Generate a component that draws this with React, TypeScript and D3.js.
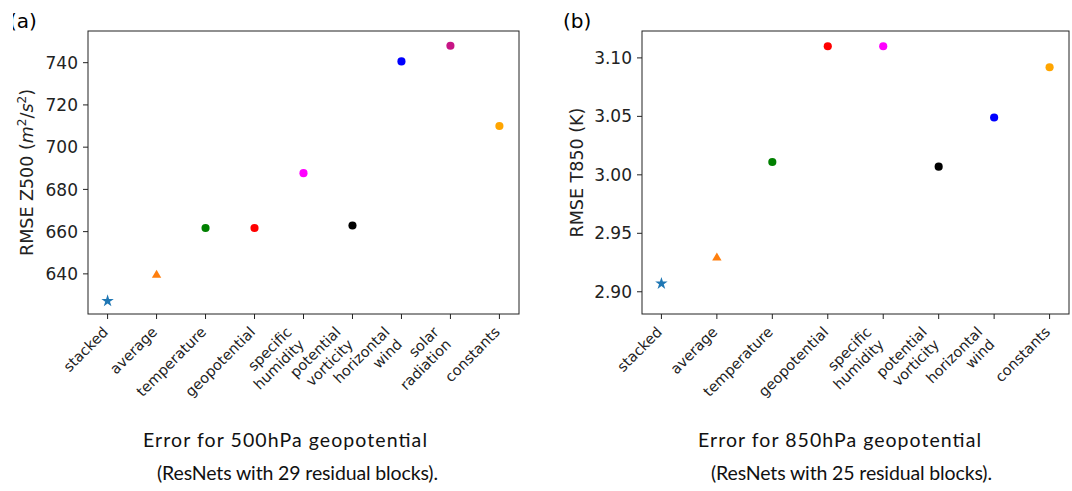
import React from 'react';
import * as d3 from 'd3';

// panel (a): 500hPa geopotential, 29 residual blocks
const catsA = [
  ['stacked'],
  ['average'],
  ['temperature'],
  ['geopotential'],
  ['specific', 'humidity'],
  ['potential', 'vorticity'],
  ['horizontal', 'wind'],
  ['solar', 'radiation'],
  ['constants'],
];
const valuesA = [627.2, 639.4, 661.7, 661.7, 687.7, 662.9, 740.6, 748.0, 710.0];
const ticksA = [640, 660, 680, 700, 720, 740];

// panel (b): 850hPa temperature, 25 residual blocks
const catsB = [
  ['stacked'],
  ['average'],
  ['temperature'],
  ['geopotential'],
  ['specific', 'humidity'],
  ['potential', 'vorticity'],
  ['horizontal', 'wind'],
  ['constants'],
];
const valuesB = [2.907, 2.929, 3.011, 3.110, 3.110, 3.007, 3.049, 3.092];
const ticksB = [2.9, 2.95, 3.0, 3.05, 3.1];

const colorsA = ['#1f77b4', '#ff7f0e', 'green', 'red', 'magenta', 'black', 'blue', 'mediumvioletred', 'orange'];
const colorsB = ['#1f77b4', '#ff7f0e', 'green', 'red', 'magenta', 'black', 'blue', 'orange'];

const FONT = '"DejaVu Sans", sans-serif';

const markerPath = (i) => {
  if (i === 0) return d3.symbol(d3.symbolStar, 48)();
  if (i === 1) return d3.symbol(d3.symbolTriangle, 38)();
  return d3.symbol(d3.symbolCircle, 52)();
};

const Panel = ({ box, cats, values, colors, yDomain, yTicks, fmt, ylabel, ylabelX, letter, letterX, clipLetter, caption, capX, capW }) => {
  const [x0, x1, y0, y1] = box;
  const x = d3
    .scalePoint()
    .domain(cats.map(c => c.join(' ')))
    .range([x0, x1])
    .padding(0.05 * (cats.length - 1));
  const y = d3.scaleLinear().domain(yDomain).range([y1, y0]);
  const fs = 14.5;
  const lh = fs * 1.2;
  return (
    <g fontFamily={FONT}>
      <defs>
        <clipPath id={`clip-${letter}`}>
          <rect x={clipLetter} y={0} width={60} height={40} />
        </clipPath>
      </defs>
      <text x={letterX} y={28} fontSize={20} clipPath={`url(#clip-${letter})`}>
        ({letter})
      </text>
      <rect x={x0} y={y0} width={x1 - x0} height={y1 - y0} fill="none" stroke="#222" strokeWidth={1} />
      {yTicks.map(t => (
        <g key={t} transform={`translate(${x0}, ${y(t)})`}>
          <line x2={-5} stroke="#222" />
          <text x={-10} dy="0.36em" textAnchor="end" fontSize={17} fill="#222">
            {fmt(t)}
          </text>
        </g>
      ))}
      {cats.map((c, i) => {
        const cx = x(c.join(' '));
        const n = c.length;
        return (
          <g key={c.join(' ')}>
            <line x1={cx} x2={cx} y1={y1} y2={y1 + 5} stroke="#222" />
            <g transform={`translate(${cx + 1.5}, ${333 + 0.707 * lh * (n - 1)}) rotate(-45)`}>
              {c.map((s, j) => (
                <text key={s} x={0} y={(j - (n - 1)) * lh} textAnchor="end" fontSize={fs} fill="#222">
                  {s}
                </text>
              ))}
            </g>
            <path
              d={markerPath(i)}
              transform={`translate(${cx}, ${y(values[i])})`}
              fill={colors[i]}
            />
          </g>
        );
      })}
      <text
        transform={`translate(${ylabelX}, ${(y0 + y1) / 2}) rotate(-90)`}
        textAnchor="middle"
        fontSize={17.5}
        fill="#222"
      >
        {ylabel}
      </text>
      <g fontFamily="Lato, sans-serif" fontSize={19.5} fill="#111">
        <text x={capX[0]} y={447} textLength={capW[0]} lengthAdjust="spacing">{caption[0]}</text>
        <text x={capX[1]} y={480} textLength={capW[1]} lengthAdjust="spacing">{caption[1]}</text>
      </g>
    </g>
  );
};

const App = () => {
  const zLabel = (
    <>
      RMSE Z500 (<tspan fontStyle="italic">m</tspan>
      <tspan dy={-7} fontSize={12}>2</tspan>
      <tspan dy={7}>/</tspan>
      <tspan fontStyle="italic">s</tspan>
      <tspan dy={-7} fontSize={12}>2</tspan>
      <tspan dy={7}>)</tspan>
    </>
  );
  return (
    <svg width={1072} height={491} style={{ position: 'absolute', left: 0, top: 0, background: '#fff' }}>
      <Panel
        box={[88, 519, 31, 314]}
        cats={catsA}
        values={valuesA}
        colors={colorsA}
        yDomain={[621, 755]}
        yTicks={ticksA}
        fmt={d3.format('d')}
        ylabel={zLabel}
        ylabelX={33}
        letter="a"
        letterX={9}
        clipLetter={13}
        caption={['Error for 500hPa geopotential', '(ResNets with 29 residual blocks).']}
        capX={[143, 157]}
        capW={[284, 281]}
      />
      <Panel
        box={[642, 1069, 31, 314]}
        cats={catsB}
        values={valuesB}
        colors={colorsB}
        yDomain={[2.881, 3.123]}
        yTicks={ticksB}
        fmt={d3.format('.2f')}
        ylabel="RMSE T850 (K)"
        ylabelX={583}
        letter="b"
        letterX={563}
        clipLetter={540}
        caption={['Error for 850hPa geopotential', '(ResNets with 25 residual blocks).']}
        capX={[698, 711]}
        capW={[283, 281]}
      />
    </svg>
  );
};

export default App;
